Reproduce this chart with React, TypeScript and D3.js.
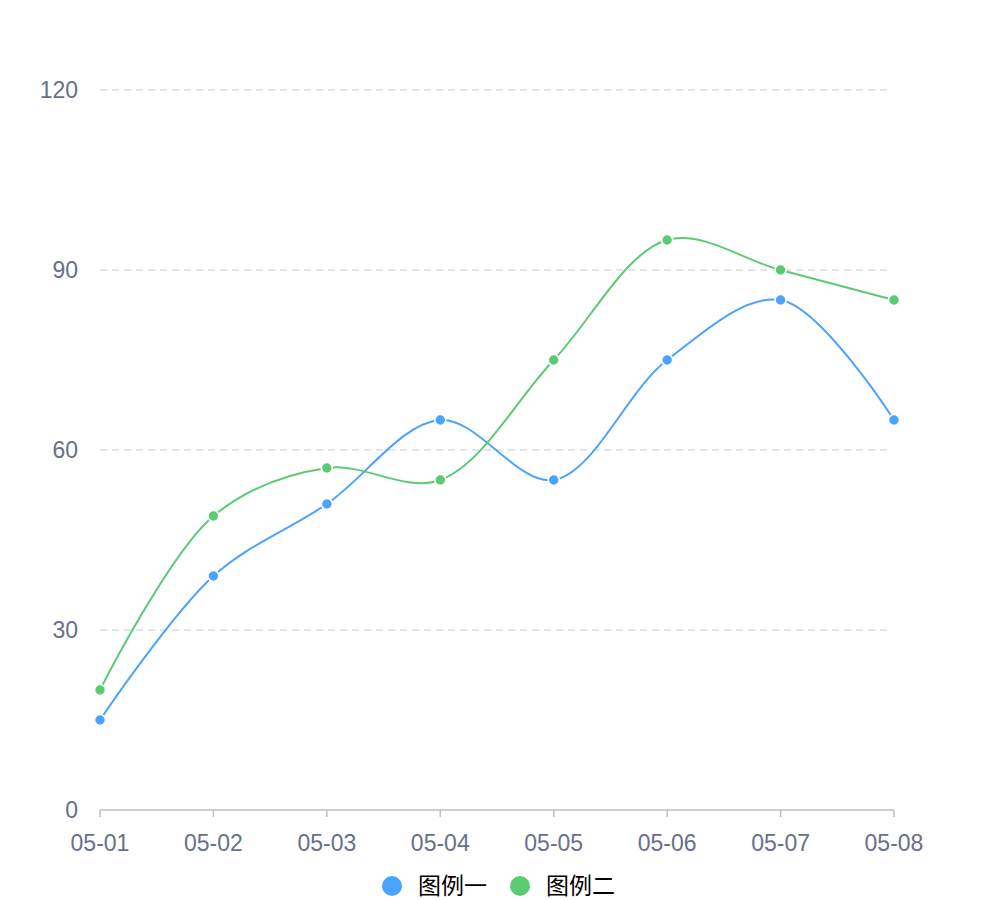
import React, { useEffect, useRef } from 'react';
import * as d3 from 'd3';

const dates = ['05-01', '05-02', '05-03', '05-04', '05-05', '05-06', '05-07', '05-08'];
const seriesOne = [15, 39, 51, 65, 55, 75, 85, 65];
const seriesTwo = [20, 49, 57, 55, 75, 95, 90, 85];
const yTicks = [0, 30, 60, 90, 120];
const legendNames = ['图例一', '图例二'];
const colors = ['#4aa3ff', '#5bcb73'];

const LineChart = () => {
  const ref = useRef<SVGSVGElement | null>(null);

  useEffect(() => {
    const width = 994;
    const height = 900;
    const margin = { top: 90, right: 100, bottom: 90, left: 100 };
    const fontFamily = '"Liberation Sans", Arial, Helvetica, sans-serif';
    const labelColor = '#68708a';

    const svg = d3.select(ref.current);
    svg.selectAll('*').remove();
    svg.attr('viewBox', [0, 0, width, height].join(' '));

    const x = d3.scalePoint<string>().domain(dates).range([margin.left, width - margin.right]);
    const y = d3.scaleLinear().domain([0, 120]).range([height - margin.bottom, margin.top]);

    // grid lines (no line at zero, the axis covers it)
    svg.append('g')
      .selectAll('line')
      .data(yTicks.filter(d => d > 0))
      .join('line')
      .attr('x1', margin.left)
      .attr('x2', width - margin.right - 4)
      .attr('y1', d => y(d))
      .attr('y2', d => y(d))
      .attr('stroke', '#dcdde1')
      .attr('stroke-width', 1.5)
      .attr('stroke-dasharray', '7,5');

    // y labels
    svg.append('g')
      .selectAll('text')
      .data(yTicks)
      .join('text')
      .attr('x', 78)
      .attr('y', d => y(d))
      .attr('dy', '0.36em')
      .attr('text-anchor', 'end')
      .attr('font-family', fontFamily)
      .attr('font-size', 23)
      .attr('fill', labelColor)
      .text(d => d);

    // x axis
    const xAxis = svg.append('g').attr('transform', `translate(0,${y(0)})`);
    xAxis.append('line')
      .attr('x1', margin.left)
      .attr('x2', width - margin.right)
      .attr('stroke', '#bfbfbf')
      .attr('stroke-width', 1.5);
    xAxis.selectAll('line.tick')
      .data(dates)
      .join('line')
      .attr('class', 'tick')
      .attr('x1', d => x(d)!)
      .attr('x2', d => x(d)!)
      .attr('y1', 0)
      .attr('y2', 7)
      .attr('stroke', '#bfbfbf')
      .attr('stroke-width', 1.5);
    xAxis.selectAll('text')
      .data(dates)
      .join('text')
      .attr('x', d => x(d)!)
      .attr('y', 33)
      .attr('dy', '0.36em')
      .attr('text-anchor', 'middle')
      .attr('font-family', fontFamily)
      .attr('font-size', 23)
      .attr('fill', labelColor)
      .text(d => d);

    const series = [seriesOne, seriesTwo];
    const line = d3.line<number>()
      .x((_, i) => x(dates[i])!)
      .y(d => y(d))
      .curve(d3.curveCatmullRom.alpha(0.5));

    series.forEach((values, s) => {
      svg.append('path')
        .datum(values)
        .attr('d', line)
        .attr('fill', 'none')
        .attr('stroke', colors[s])
        .attr('stroke-width', 2);
    });

    series.forEach((values, s) => {
      svg.append('g')
        .selectAll('circle')
        .data(values)
        .join('circle')
        .attr('cx', (_, i) => x(dates[i])!)
        .attr('cy', d => y(d))
        .attr('r', 5.5)
        .attr('fill', colors[s])
        .attr('stroke', '#fff')
        .attr('stroke-width', 1.5);
    });

    // legend
    const legend = svg.append('g').attr('transform', 'translate(392,886)');
    const items = legend.selectAll('g')
      .data(legendNames)
      .join('g')
      .attr('transform', (_, i) => `translate(${i * 128},0)`);
    items.append('circle')
      .attr('r', 10)
      .attr('fill', (_, i) => colors[i]);
    items.append('text')
      .attr('x', 26)
      .attr('dy', '0.36em')
      .attr('font-family', '"Noto Sans CJK SC", sans-serif')
      .attr('font-size', 23)
      .attr('fill', '#000')
      .text(d => d);
  }, []);

  return <svg ref={ref} width={994} height={900} style={{ position: 'absolute', left: 0, top: 0 }} />;
};

export default function App() {
  return <LineChart />;
}
